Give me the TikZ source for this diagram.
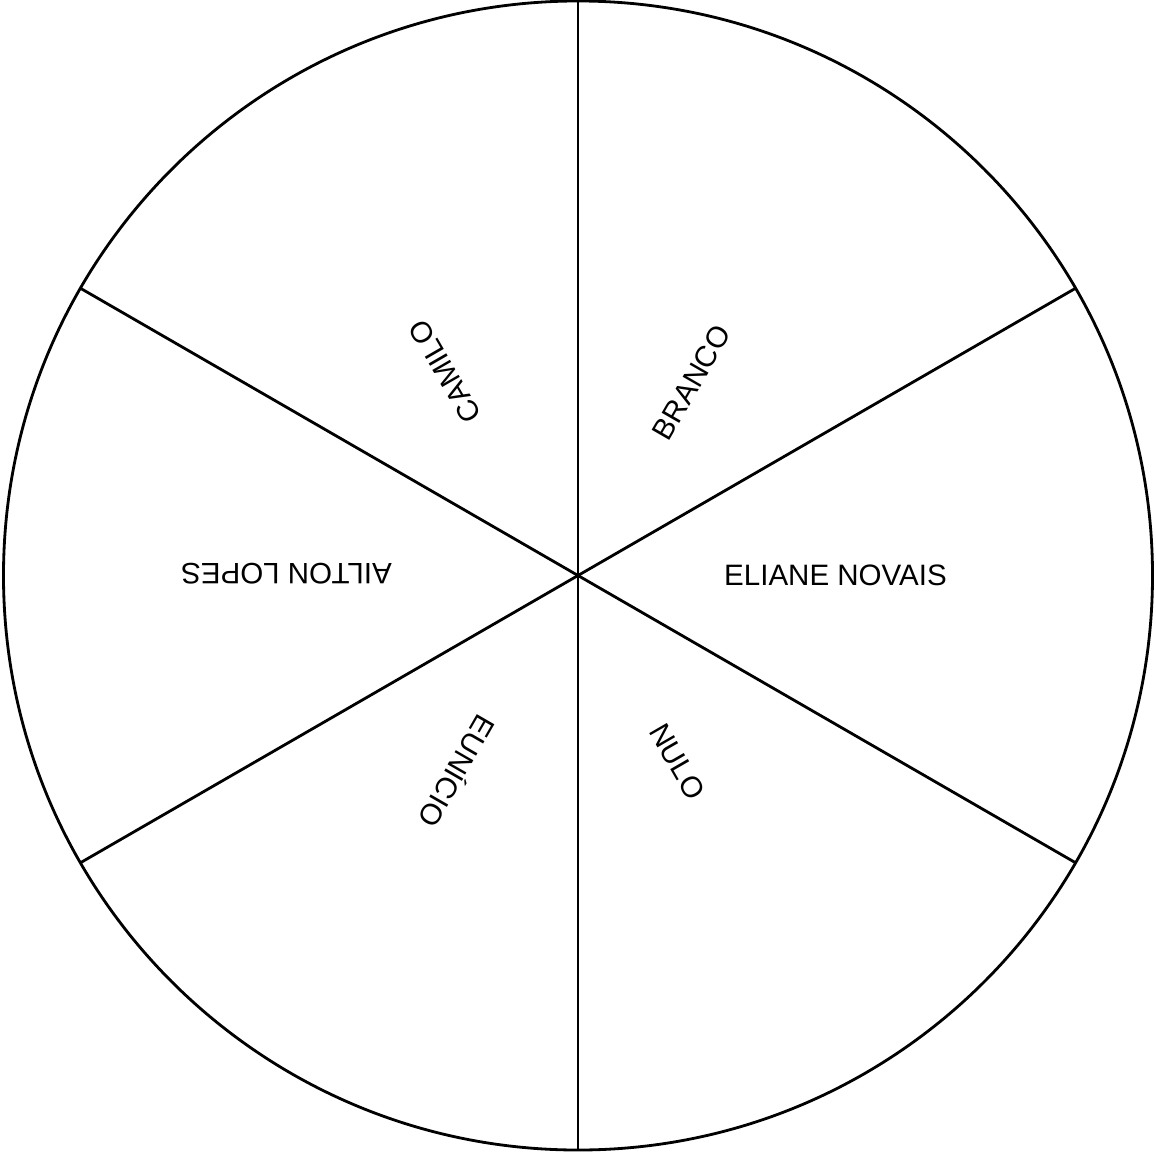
\documentclass[tikz,border=0pt]{standalone}
\usepackage{fontspec}
\setmainfont{Liberation Sans}
\usetikzlibrary{positioning}
\tikzset{
  wheel/.style={draw, circle, line width=0.8pt, minimum size=114.9mm,
                inner sep=0pt, outer sep=0pt},
  spoke/.style={line width=0.8pt, draw=black},
  lbl/.style={font=\fontsize{8.4}{10}\selectfont, inner sep=0pt},
}

\begin{document}
\begin{tikzpicture}
\useasboundingbox (-5.78,-5.765) rectangle (5.78,5.755);

% ---- the wheel and its six sectors ----------------------------------------
\node[wheel] (wheel) at (0,0) {};
\draw[spoke] (wheel.90) -- (wheel.270);
\draw[spoke] (wheel.30) -- (wheel.210);
\draw[spoke] (wheel.150) -- (wheel.330);

% ---- sector labels, each reading outwards ---------------------------------
\node[lbl] (eliane) at (2.575,0) {ELIANE NOVAIS};
\node[lbl, rotate=60] (branco) at (1.135,1.93) {BRANCO};
\node[lbl, rotate=120] (camilo) at (-1.33,2.04) {CAMILO};
\node[lbl, rotate=180] (ailton) at (-2.915,0.02) {AILTON LOPES};
\node[lbl, rotate=240] (eunicio) at (-1.195,-1.97) {EUNÍCIO};
\node[lbl, rotate=300] (nulo) at (0.995,-1.86) {NULO};
\end{tikzpicture}
\end{document}
